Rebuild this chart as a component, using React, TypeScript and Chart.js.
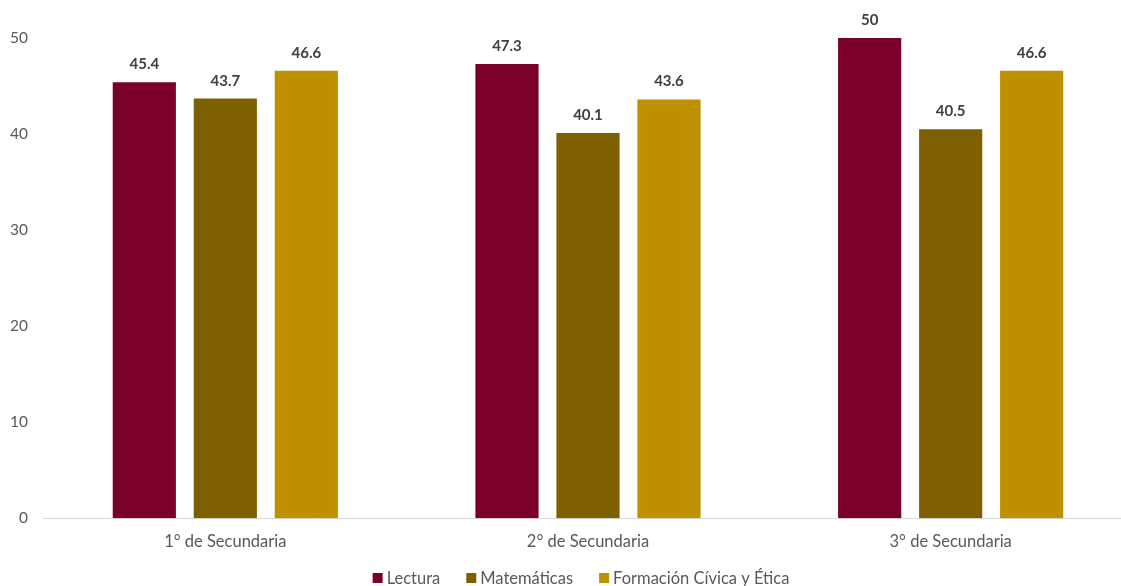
import React, { useEffect, useRef } from "react";
import { Chart, registerables } from "chart.js";

Chart.register(...registerables);

const categories = ["1° de Secundaria", "2° de Secundaria", "3° de Secundaria"];
const seriesNames = ["Lectura", "Matemáticas", "Formación Cívica y Ética"];
const lectura = [45.4, 47.3, 50];
const matematicas = [43.7, 40.1, 40.5];
const formacion = [46.6, 43.6, 46.6];
const colors = ["#7B0029", "#7F6000", "#BF9000"];

const FONT = "Lato, 'Open Sans', sans-serif";

const dataLabels = {
  id: "dataLabels",
  afterDatasetsDraw(chart: any) {
    const ctx = chart.ctx;
    ctx.save();
    ctx.font = `bold 15px ${FONT}`;
    ctx.fillStyle = "#404040";
    ctx.textAlign = "center";
    ctx.textBaseline = "alphabetic";
    chart.data.datasets.forEach((ds: any, i: number) => {
      const meta = chart.getDatasetMeta(i);
      meta.data.forEach((el: any, j: number) => {
        ctx.fillText(String(ds.data[j]), el.x, el.y - 13);
      });
    });
    ctx.restore();
  },
};

const bottomLegend = {
  id: "bottomLegend",
  afterDraw(chart: any) {
    const ctx = chart.ctx;
    ctx.save();
    ctx.font = `16.5px ${FONT}`;
    const box = 10;
    const gapText = 4;
    const gapItem = 26;
    const items = chart.data.datasets.map((ds: any) => ({
      label: ds.label,
      color: ds.backgroundColor,
      w: box + gapText + ctx.measureText(ds.label).width,
    }));
    const total = items.reduce((s: number, it: any) => s + it.w, 0) + gapItem * (items.length - 1);
    const cx = 581;
    let x = cx - total / 2;
    const y = 578;
    items.forEach((it: any) => {
      ctx.fillStyle = it.color;
      ctx.fillRect(x, y - box / 2, box, box);
      ctx.fillStyle = "#595959";
      ctx.textAlign = "left";
      ctx.textBaseline = "middle";
      ctx.fillText(it.label, x + box + gapText, y + 1);
      x += it.w + gapItem;
    });
    ctx.restore();
  },
};

export default function App() {
  const ref = useRef<HTMLCanvasElement | null>(null);
  useEffect(() => {
    if (!ref.current) return;
    const chart = new Chart(ref.current, {
      type: "bar",
      data: {
        labels: categories,
        datasets: [lectura, matematicas, formacion].map((d, i) => ({
          label: seriesNames[i],
          data: d,
          backgroundColor: colors[i],
          categoryPercentage: 0.67,
          barPercentage: 0.78,
        })),
      },
      options: {
        animation: false,
        responsive: true,
        maintainAspectRatio: false,
        layout: { padding: { top: 38, right: 0, left: -6, bottom: 20 } },
        plugins: {
          legend: { display: false },
          tooltip: { enabled: false },
        },
        scales: {
          x: {
            grid: { display: false, drawTicks: false },
            border: { display: true, color: "#D9D9D9", width: 1 },
            ticks: { color: "#595959", font: { family: FONT, size: 16.5 }, padding: 14 },
          },
          y: {
            min: 0,
            max: 50,
            grid: { display: false, drawTicks: false },
            border: { display: false },
            ticks: { stepSize: 10, color: "#595959", font: { family: FONT, size: 15.5 }, padding: 16 },
          },
        },
      },
      plugins: [dataLabels, bottomLegend],
    });
    return () => chart.destroy();
  }, []);
  return (
    <div style={{ position: "fixed", left: 0, top: 0, width: 1121, height: 586, overflow: "hidden", background: "#fff" }}>
      <div style={{ position: "absolute", left: 0, top: 0, width: 1132, height: 586 }}>
        <canvas ref={ref} />
      </div>
    </div>
  );
}
